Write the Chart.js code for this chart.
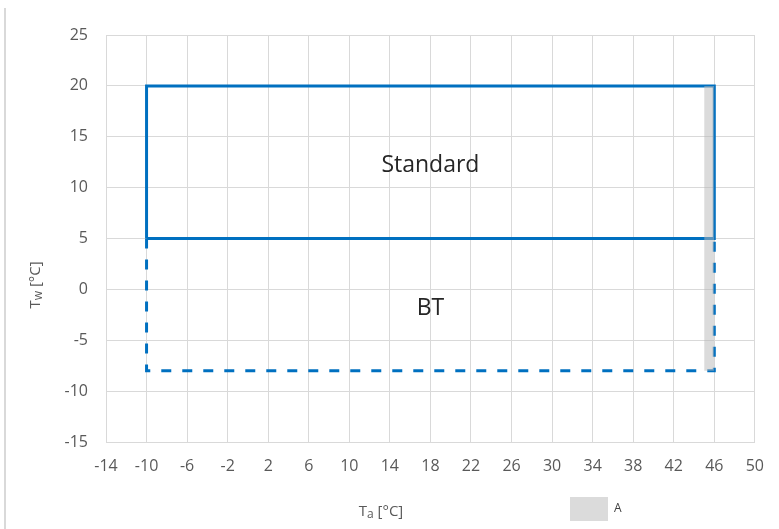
<!DOCTYPE html>
<html>
<head>
<meta charset="utf-8">
<script src="https://cdn.jsdelivr.net/npm/chart.js@4.4.1/dist/chart.umd.min.js"></script>
<style>
  html, body { margin: 0; padding: 0; background: #fff; }
  #wrap { width: 779px; height: 529px; }
</style>
</head>
<body>
<div id="wrap"><canvas id="envelopeChart" width="779" height="529"></canvas></div>
<script>
// Operating envelope: water temperature vs ambient temperature
const standardX = [-10, -10, 46, 46, -10];
const standardY = [5, 20, 20, 5, 5];
const btX = [-10, -10, 46, 46];
const btY = [5, -8, -8, 5];
const bandX = [45, 46];
const bandTop = [20, 20];
const bandBottom = -8;
const regionNames = ['Standard', 'BT'];
const xTicks = { min: -14, max: 50, step: 4 };
const yTicks = { min: -15, max: 25, step: 5 };

const toPoints = (xs, ys) => xs.map((x, i) => ({ x: x, y: ys[i] }));

const GRID = '#d9d9d9';
const TEXT = '#595959';
const BLUE = '#0070C0';

// region names written inside the envelope
const regionLabels = {
    id: 'regionLabels',
    afterDatasetsDraw(chart) {
        const { ctx, scales: { x, y } } = chart;
        const spots = [[18, 12.2], [18, -1.9]];
        ctx.save();
        ctx.font = '23px "Open Sans"';
        ctx.fillStyle = '#262626';
        ctx.textAlign = 'center';
        ctx.textBaseline = 'middle';
        regionNames.forEach((name, i) => {
            ctx.fillText(name, x.getPixelForValue(spots[i][0]), y.getPixelForValue(spots[i][1]));
        });
        ctx.restore();
    }
};

// axis titles with subscripts, plus the frame line on the left
const axisTitles = {
    id: 'axisTitles',
    beforeDraw(chart) {
        const ctx = chart.ctx;
        ctx.save();
        ctx.strokeStyle = GRID;
        ctx.lineWidth = 2;
        ctx.beginPath();
        ctx.moveTo(5, 8);
        ctx.lineTo(5, 529);
        ctx.stroke();
        ctx.restore();
    },
    afterDraw(chart) {
        const ctx = chart.ctx;
        const drawTitle = (base, sub, unit) => {
            ctx.font = '15px "Open Sans"';
            const w1 = ctx.measureText(base).width;
            const w3 = ctx.measureText(unit).width;
            ctx.font = '12px "Open Sans"';
            const w2 = ctx.measureText(sub).width;
            let cx = -(w1 + w2 + w3) / 2;
            ctx.textBaseline = 'middle';
            ctx.textAlign = 'left';
            ctx.font = '15px "Open Sans"';
            ctx.fillText(base, cx, 0);
            cx += w1;
            ctx.font = '12px "Open Sans"';
            ctx.fillText(sub, cx, 3);
            cx += w2;
            ctx.font = '15px "Open Sans"';
            ctx.fillText(unit, cx, 0);
        };
        ctx.save();
        ctx.fillStyle = TEXT;
        ctx.translate(381, 512);
        drawTitle('T', 'a', ' [°C]');
        ctx.restore();
        ctx.save();
        ctx.fillStyle = TEXT;
        ctx.translate(36, 285);
        ctx.rotate(-Math.PI / 2);
        drawTitle('T', 'w', ' [°C]');
        ctx.restore();
    }
};

// move the legend next to the x axis title, like the original
const legendSpot = {
    id: 'legendSpot',
    afterLayout(chart) {
        const lg = chart.legend;
        if (!lg) return;
        const w = lg.width, h = lg.height;
        lg.left = 560;
        lg.right = 560 + w;
        lg.top = 487;
        lg.bottom = 487 + h;
    }
};

const ctx = document.getElementById('envelopeChart').getContext('2d');

new Chart(ctx, {
    type: 'scatter',
    data: {
        datasets: [
            {
                label: 'A',
                data: toPoints(bandX, bandTop),
                showLine: true,
                fill: { value: bandBottom },
                backgroundColor: 'rgba(184, 184, 184, 0.5)',
                borderColor: 'rgba(0, 0, 0, 0)',
                borderWidth: 0,
                pointRadius: 0
            },
            {
                label: 'Standard',
                data: toPoints(standardX, standardY),
                showLine: true,
                borderColor: BLUE,
                backgroundColor: BLUE,
                borderWidth: 3,
                pointRadius: 0,
                tension: 0
            },
            {
                label: 'BT',
                data: toPoints(btX, btY),
                showLine: true,
                borderColor: BLUE,
                backgroundColor: BLUE,
                borderWidth: 3,
                borderDash: [10, 11],
                pointRadius: 0,
                tension: 0
            }
        ]
    },
    options: {
        responsive: false,
        animation: false,
        events: [],
        layout: { padding: { left: 0, right: 22, top: 35, bottom: 0 } },
        plugins: {
            tooltip: { enabled: false },
            legend: {
                display: true,
                position: 'bottom',
                align: 'start',
                labels: {
                    filter: item => item.text === 'A',
                    boxWidth: 38,
                    boxHeight: 24,
                    padding: 10,
                    color: '#404040',
                    font: { family: 'Open Sans', size: 12 }
                }
            }
        },
        scales: {
            x: {
                type: 'linear',
                min: xTicks.min,
                max: xTicks.max,
                afterFit: scale => { scale.height = 529 - 442 - (scale.chart.legend ? scale.chart.legend.height : 0); },
                afterBuildTicks: scale => {
                    const t = [];
                    for (let v = xTicks.min; v <= xTicks.max; v += xTicks.step) t.push({ value: v });
                    scale.ticks = t;
                },
                grid: { color: GRID, lineWidth: 1, drawTicks: false },
                border: { color: GRID, width: 1 },
                ticks: {
                    color: TEXT,
                    padding: 15,
                    maxRotation: 0,
                    autoSkip: false,
                    font: { family: 'Open Sans', size: 16 }
                }
            },
            y: {
                type: 'linear',
                min: yTicks.min,
                max: yTicks.max,
                afterFit: scale => { scale.width = 106; },
                grid: { color: GRID, lineWidth: 1, drawTicks: false },
                border: { color: GRID, width: 1 },
                ticks: {
                    stepSize: yTicks.step,
                    color: TEXT,
                    padding: 18,
                    font: { family: 'Open Sans', size: 16 }
                }
            }
        }
    },
    plugins: [regionLabels, axisTitles, legendSpot]
});
</script>
</body>
</html>
